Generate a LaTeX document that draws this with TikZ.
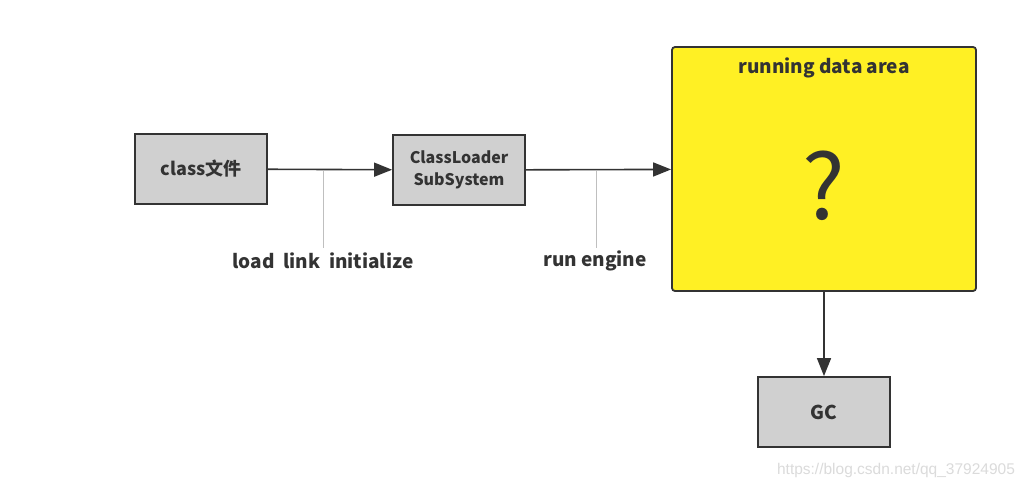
\documentclass[tikz,border=0pt]{standalone}
\usepackage{fontspec}
\setmainfont{Noto Sans CJK SC}
\newfontfamily\wmfont{Liberation Sans}
\usetikzlibrary{arrows.meta}
\definecolor{boxgrey}{HTML}{D0D0D0}
\definecolor{edge}{HTML}{333333}
\definecolor{ylw}{HTML}{FFF024}
\definecolor{lbl}{HTML}{333333}
\tikzset{
  greybox/.style={draw=edge, line width=1.8pt, fill=boxgrey, minimum width=132pt, minimum height=70pt, inner sep=0pt, align=center, font=\fontsize{18}{22}\selectfont\bfseries, text=lbl},
  bigbox/.style={draw=edge, line width=1.8pt, fill=ylw, rounded corners=3pt, minimum width=304pt, minimum height=244pt, inner sep=0pt},
  conn/.style={draw=edge, line width=1.6pt, -{Triangle[length=18pt,width=14pt]}},
  tick/.style={draw=black!25, line width=1pt},
  note/.style={font=\fontsize{19}{22}\selectfont\bfseries, text=lbl, inner sep=0pt}
}
\begin{document}
\begin{tikzpicture}[x=1pt,y=-1pt]
\useasboundingbox[fill=white] (0,0) rectangle (1028,490);
\node[greybox] (cf) at (201,169) {class文件};
\node[greybox, font=\fontsize{16}{22}\selectfont\bfseries] (cl) at (459,170) {ClassLoader\\SubSystem};
\node[bigbox] (rda) at (824,169) {};
\node[note] (rdat) at (824,68) {running data area};
\node[text=lbl, inner sep=0pt, font=\fontsize{90}{90}\selectfont] (q) at (824,186) {?};
\node[greybox, font=\fontsize{19}{22}\selectfont\bfseries] (gc) at (824,412) {GC};
\draw[conn] (cf) -- (cl);
\draw[conn] (cl) -- (rda);
\draw[conn] (rda) -- (gc);
\coordinate (t1a) at (323,171);
\coordinate (t1b) at (323,248);
\coordinate (t2a) at (596,171);
\coordinate (t2b) at (596,248);
\draw[tick] (t1a) -- (t1b);
\draw[tick] (t2a) -- (t2b);
\node[note] (l1) at (323,261) {load\ \ link\ \ initialize};
\node[note] (l2) at (595,261) {run engine};
\node[text=black!14, inner sep=0pt, font=\wmfont\fontsize{15.5}{18}\selectfont] (wm) at (896,470) {https://blog.csdn.net/qq\_37924905};
\end{tikzpicture}
\end{document}
